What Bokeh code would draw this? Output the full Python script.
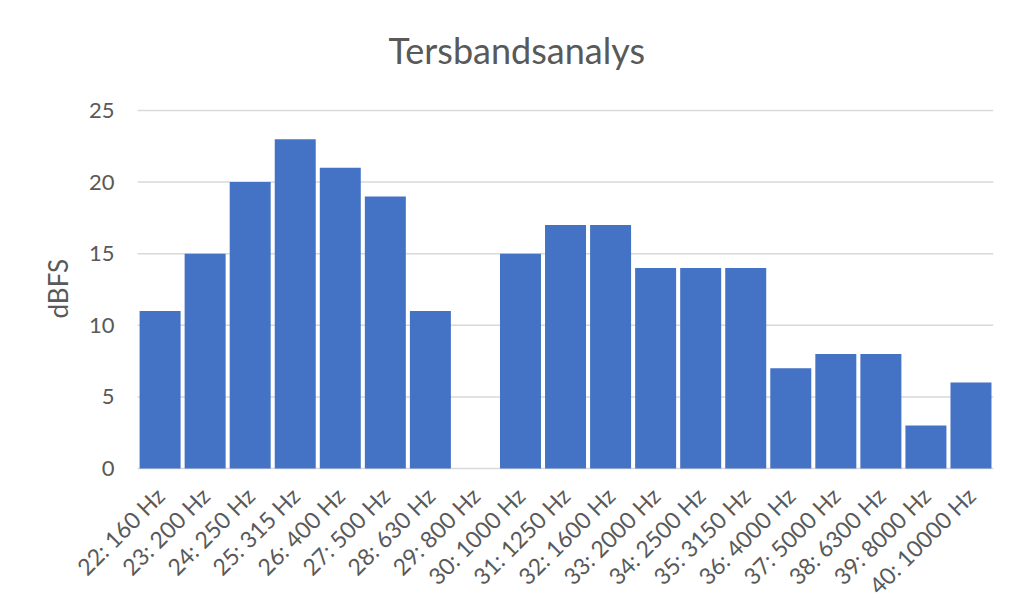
import math
from bokeh.plotting import figure
from bokeh.models import Range1d, ColumnDataSource, Title, FixedTicker
from bokeh.embed import file_html
from bokeh.resources import INLINE

categories = ["22: 160 Hz", "23: 200 Hz", "24: 250 Hz", "25: 315 Hz", "26: 400 Hz",
              "27: 500 Hz", "28: 630 Hz", "29: 800 Hz", "30: 1000 Hz", "31: 1250 Hz",
              "32: 1600 Hz", "33: 2000 Hz", "34: 2500 Hz", "35: 3150 Hz", "36: 4000 Hz",
              "37: 5000 Hz", "38: 6300 Hz", "39: 8000 Hz", "40: 10000 Hz"]
values = [11, 15, 20, 23, 21, 19, 11, 0, 15, 17, 17, 14, 14, 14, 7, 8, 8, 3, 6]
y_ticks = [0, 5, 10, 15, 20, 25]
title_text = "Tersbandsanalys"
y_label = "dBFS"

FONT = "Lato"
TXT = "#595959"
GRID = "#D9D9D9"
BAR = "#4472C4"

n = len(categories)
xs = list(range(n))
# extra blank room around the category area, for the axis labels
X_PAD_LEFT = 1.40
Y_PAD_TOP = 0.98
Y_MIN = -9.22

src = ColumnDataSource(dict(x=xs, val=values))

p = figure(width=999, height=600, output_backend="svg", toolbar_location=None,
           x_range=Range1d(-0.5 - X_PAD_LEFT, n - 0.5),
           y_range=Range1d(Y_MIN, y_ticks[-1] + Y_PAD_TOP), title=title_text,
           min_border_left=74, min_border_right=6, min_border_top=96, min_border_bottom=0)
p.outline_line_color = None
p.background_fill_color = "white"
p.border_fill_color = "white"

p.title.align = "left"
p.title.offset = 314
p.title.text_font = FONT
p.title.text_font_style = "normal"
p.title.text_font_size = "36px"
p.title.text_color = TXT
p.title.standoff = 50

# horizontal gridlines, spanning only the category area
p.segment(x0=[-0.5] * len(y_ticks), x1=[n - 0.5] * len(y_ticks), y0=y_ticks, y1=y_ticks,
          line_color=GRID, line_width=1.5)

p.vbar(x="x", top="val", bottom=0, width=0.91, source=src, fill_color=BAR, line_color=None)

p.xgrid.grid_line_color = None
p.ygrid.grid_line_color = None

for ax in (p.xaxis, p.yaxis):
    ax.axis_line_color = None
    ax.major_tick_line_color = None
    ax.minor_tick_line_color = None
    ax.major_tick_out = 0
    ax.minor_tick_out = 0
    ax.major_label_text_font = FONT
    ax.major_label_text_color = TXT

p.yaxis.ticker = FixedTicker(ticks=y_ticks)
p.yaxis.fixed_location = -0.5
p.yaxis.major_label_text_font_size = "22px"
p.yaxis.major_label_standoff = 23

p.xaxis.ticker = FixedTicker(ticks=xs)
p.xaxis.major_label_overrides = {i: c for i, c in zip(xs, categories)}
p.xaxis.fixed_location = 0
p.xaxis.major_label_text_font_size = "23px"
p.xaxis.major_label_orientation = math.pi / 4
p.xaxis.major_label_standoff = 23

ylab = Title(text=y_label, align="left", offset=282, standoff=2,
             text_font=FONT, text_font_style="normal", text_font_size="26px",
             text_color=TXT)
p.add_layout(ylab, "left")

open("out.html", "w").write(file_html(p, INLINE))
